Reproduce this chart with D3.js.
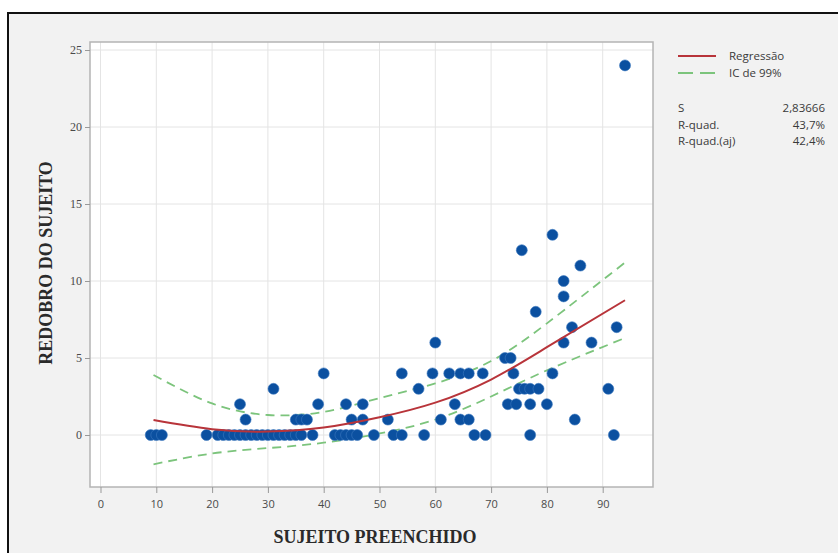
<!DOCTYPE html>
<html>
<head>
<meta charset="utf-8">
<script src="https://cdn.jsdelivr.net/npm/d3@7"></script>
<style>
body { margin: 0; background: #fff; }
.tick-x { font-family: "Open Sans", sans-serif; font-size: 11px; fill: #4a4a4a; }
.tick-y { font-family: "Liberation Serif", serif; font-size: 12px; fill: #4a4a4a; }
.axis-title { font-family: "Liberation Serif", serif; font-size: 18px; font-weight: bold; fill: #2a2a2a; }
.legend { font-family: "Open Sans", sans-serif; font-size: 11.5px; fill: #3a3a3a; }
</style>
</head>
<body>
<script>
// scatter points
var sujeitoPreenchido = [
    9, 10, 11, 19, 21, 22, 23, 24, 25, 26, 27, 28, 29, 30, 31, 32, 33, 34, 35, 36, 38,
    42, 43, 44, 45, 46, 49, 52.5, 54, 58, 67, 69, 77, 92,
    26, 35, 36, 37, 45, 47, 51.5, 61, 64.5, 66, 85,
    25, 39, 44, 47, 63.5, 73, 74.5, 77, 80,
    31, 57, 75, 76, 77, 78.5, 91,
    40, 54, 59.5, 62.5, 64.5, 66, 68.5, 74, 81,
    72.5, 73.5,
    60, 83, 88,
    84.5, 92.5,
    78, 83, 83, 86, 75.5, 81, 94
]
var redobroSujeito = [
    0, 0, 0, 0, 0, 0, 0, 0, 0, 0, 0, 0, 0, 0, 0, 0, 0, 0, 0, 0, 0,
    0, 0, 0, 0, 0, 0, 0, 0, 0, 0, 0, 0, 0,
    1, 1, 1, 1, 1, 1, 1, 1, 1, 1, 1,
    2, 2, 2, 2, 2, 2, 2, 2, 2,
    3, 3, 3, 3, 3, 3, 3,
    4, 4, 4, 4, 4, 4, 4, 4, 4,
    5, 5,
    6, 6, 6,
    7, 7,
    8, 9, 10, 11, 12, 13, 24
]

// fitted line and 99% band
var fitX = [9.5, 20, 30, 40, 50, 60, 70, 80, 94]
var fitY = [0.97, 0.38, 0.22, 0.48, 1.15, 2.1, 3.6, 5.7, 8.75]
var ciUpper = [3.9, 2.05, 1.3, 1.5, 2.4, 3.35, 4.8, 7.25, 11.2]
var ciLower = [-1.9, -1.2, -0.85, -0.5, 0.1, 1.0, 2.5, 4.2, 6.3]

var xTicks = [0, 10, 20, 30, 40, 50, 60, 70, 80, 90]
var yTicks = [0, 5, 10, 15, 20, 25]

var statsLabels = ["S", "R-quad.", "R-quad.(aj)"]
var statsValues = ["2,83666", "43,7%", "42,4%"]

var W = 838, H = 553
var plot = { left: 90, right: 653, top: 42, bottom: 487 }

var svg = d3.select("body").append("svg")
    .attr("width", W)
    .attr("height", H)

// outer frame
svg.append("rect")
    .attr("x", 8).attr("y", 13)
    .attr("width", W + 10).attr("height", H + 10)
    .style("fill", "#f2f2f2")
    .style("stroke", "#111")
    .style("stroke-width", 2)

var x = d3.scaleLinear().domain([0, 10]).range([100.5, 156.3])
var y = d3.scaleLinear().domain([0, 25]).range([435, 50])

svg.append("rect")
    .attr("x", plot.left).attr("y", plot.top)
    .attr("width", plot.right - plot.left).attr("height", plot.bottom - plot.top)
    .style("fill", "#fff")

// grid
svg.selectAll(".gx").data(xTicks).enter().append("line")
    .attr("class", "gx")
    .attr("x1", d => x(d)).attr("x2", d => x(d))
    .attr("y1", plot.top).attr("y2", plot.bottom)
    .style("stroke", "#e4e4e4")
svg.selectAll(".gy").data(yTicks).enter().append("line")
    .attr("class", "gy")
    .attr("y1", d => y(d)).attr("y2", d => y(d))
    .attr("x1", plot.left).attr("x2", plot.right)
    .style("stroke", "#e4e4e4")

svg.append("rect")
    .attr("x", plot.left).attr("y", plot.top)
    .attr("width", plot.right - plot.left).attr("height", plot.bottom - plot.top)
    .style("fill", "none")
    .style("stroke", "#b4b4b4")
    .style("stroke-width", 1.5)

// axes
var xAxis = svg.append("g")
    .attr("transform", "translate(0," + plot.bottom + ")")
    .call(d3.axisBottom(x).tickValues(xTicks).tickSize(6).tickPadding(7))
xAxis.select(".domain").remove()
xAxis.selectAll("line").style("stroke", "#999")
xAxis.selectAll("text").attr("class", "tick-x").attr("font-family", null).attr("font-size", null).attr("fill", null)

var yAxis = svg.append("g")
    .attr("transform", "translate(" + plot.left + ",0)")
    .call(d3.axisLeft(y).tickValues(yTicks).tickSize(5).tickPadding(3))
yAxis.select(".domain").remove()
yAxis.selectAll("line").style("stroke", "#999")
yAxis.selectAll("text").attr("class", "tick-y").attr("font-family", null).attr("font-size", null).attr("fill", null)

svg.append("text")
    .attr("class", "axis-title")
    .attr("x", 375).attr("y", 543)
    .style("text-anchor", "middle")
    .text("SUJEITO PREENCHIDO")

svg.append("text")
    .attr("class", "axis-title")
    .attr("transform", "translate(52,263) rotate(-90)")
    .style("text-anchor", "middle")
    .text("REDOBRO DO SUJEITO")

// band and fit
var line = (ys) => d3.line()
    .x((d, i) => x(fitX[i]))
    .y(d => y(d))
    .curve(d3.curveNatural)(ys)

svg.append("path").attr("d", line(ciUpper))
    .style("fill", "none").style("stroke", "#7cc47c").style("stroke-width", 1.8)
    .style("stroke-dasharray", "9,6")
svg.append("path").attr("d", line(ciLower))
    .style("fill", "none").style("stroke", "#7cc47c").style("stroke-width", 1.8)
    .style("stroke-dasharray", "9,6")

// points
svg.selectAll(".dot").data(sujeitoPreenchido).enter().append("circle")
    .attr("class", "dot")
    .attr("cx", d => x(d))
    .attr("cy", (d, i) => y(redobroSujeito[i]))
    .attr("r", 5.5)
    .style("fill", "#0b50a0")
    .style("stroke", "#3d78bf")
    .style("stroke-width", 0.6)

svg.append("path").attr("d", line(fitY))
    .style("fill", "none").style("stroke", "#b8343a").style("stroke-width", 2)

// legend
svg.append("line")
    .attr("x1", 678).attr("x2", 716).attr("y1", 56).attr("y2", 56)
    .style("stroke", "#b8343a").style("stroke-width", 2)
svg.append("text").attr("class", "legend").attr("x", 729).attr("y", 60).text("Regressão")
svg.append("line")
    .attr("x1", 678).attr("x2", 716).attr("y1", 73).attr("y2", 73)
    .style("stroke", "#7cc47c").style("stroke-width", 1.8)
    .style("stroke-dasharray", "15,7")
svg.append("text").attr("class", "legend").attr("x", 729).attr("y", 77).text("IC de 99%")

svg.selectAll(".stat-l").data(statsLabels).enter().append("text")
    .attr("class", "legend stat-l")
    .attr("x", 678)
    .attr("y", (d, i) => 112 + i * 16.5)
    .text(d => d)
svg.selectAll(".stat-v").data(statsValues).enter().append("text")
    .attr("class", "legend stat-v")
    .attr("x", 825)
    .attr("y", (d, i) => 112 + i * 16.5)
    .style("text-anchor", "end")
    .text(d => d)
</script>
</body>
</html>
